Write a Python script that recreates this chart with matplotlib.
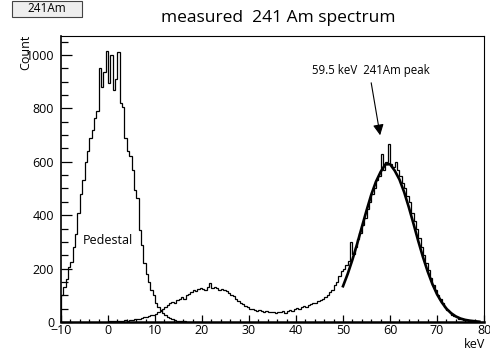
import numpy as np
import matplotlib.pyplot as plt
from matplotlib.patches import Rectangle
from matplotlib.ticker import MultipleLocator

plt.rcParams["font.family"] = ["Open Sans", "DejaVu Sans"]

# ===== DATA =====
BIN = 0.5
PED_START = -10.0
pedestal = [100, 130, 160, 205, 225, 280, 330, 410, 480, 530,
            600, 640, 690, 720, 765, 790, 950, 880, 935, 1015,
            895, 1000, 870, 910, 1010, 820, 805, 690, 640, 620,
            570, 495, 465, 345, 290, 220, 180, 150, 120, 100,
            71, 55, 45, 34, 25, 18, 14, 10, 7, 5,
            4, 3, 2, 1, 1, 0, 0, 0, 0, 0]

SPEC_START = 0.0
spectrum = [2, 3, 2, 4, 3, 5, 4, 6, 5, 7,
            8, 10, 12, 13, 15, 17, 20, 22, 25, 28,
            30, 36, 42, 48, 55, 62, 70, 76, 72, 84,
            88, 92, 86, 100, 105, 112, 120, 116, 124, 127,
            125, 118, 130, 145, 128, 132, 126, 120, 124, 118,
            115, 108, 100, 96, 88, 80, 72, 66, 60, 56,
            50, 48, 45, 42, 44, 40, 38, 40, 36, 38,
            37, 34, 38, 36, 40, 35, 42, 44, 40, 48,
            52, 50, 56, 60, 58, 64, 66, 72, 70, 78,
            82, 88, 95, 100, 112, 118, 140, 150, 172, 190,
            200, 215, 230, 300, 255, 280, 310, 335, 365, 390,
            425, 450, 480, 500, 530, 545, 630, 570, 600, 665,
            590, 580, 600, 570, 545, 520, 500, 470, 450, 410,
            380, 350, 315, 280, 250, 220, 195, 165, 140, 120,
            100, 85, 70, 58, 45, 36, 28, 22, 17, 13,
            10, 8, 6, 5, 4, 3, 2, 2, 1, 1]

fit_x = list(range(50, 80))
fit_y = [134, 180, 233, 292, 355, 417, 476, 525, 562, 590,
         591, 567, 534, 487, 430, 368, 304, 244, 190, 143,
         104, 74, 50, 33, 21, 13, 8, 5, 3, 1]

ped_edges = PED_START + BIN * np.arange(len(pedestal) + 1)
spec_edges = SPEC_START + BIN * np.arange(len(spectrum) + 1)

# ===== PLOT =====
fig = plt.figure(figsize=(4.9, 3.54), dpi=100)
ax = fig.add_axes([61 / 490, 1 - 322 / 354, 423 / 490, 286 / 354])

ax.stairs(pedestal, ped_edges, color="black", lw=0.9)
ax.stairs(spectrum, spec_edges, color="black", lw=0.9)
ax.plot(fit_x, fit_y, color="black", lw=1.9)

ax.set_xlim(-10, 80)
ax.set_ylim(0, 1071)
ax.set_xticks(range(-10, 81, 10))
ax.set_yticks(range(0, 1001, 200))
ax.xaxis.set_minor_locator(MultipleLocator(2))
ax.yaxis.set_minor_locator(MultipleLocator(50))
ax.tick_params(axis="both", which="both", direction="in", labelsize=9,
               width=0.9)
ax.tick_params(axis="y", which="major", length=8, pad=5)
ax.tick_params(axis="y", which="minor", length=5)
ax.tick_params(axis="x", which="major", length=5, pad=1.5)
ax.tick_params(axis="x", which="minor", length=2.5)
ax.tick_params(top=False, right=False)

ax.spines["left"].set_linewidth(1.2)
ax.spines["bottom"].set_linewidth(1.8)
ax.spines["top"].set_linewidth(0.8)
ax.spines["right"].set_linewidth(0.8)

ax.text(-5.3, 307, "Pedestal", fontsize=9, va="center", ha="left")
ax.annotate("", xy=(58.0, 689), xytext=(55.9, 906),
            arrowprops=dict(arrowstyle="-|>", color="black", lw=0.8,
                            mutation_scale=16))
ax.text(55.9, 941, "59.5 keV  241Am peak", fontsize=8.3, ha="center",
        va="center")

fig.text(278 / 490, 1 - 18 / 354, "measured  241 Am spectrum",
         ha="center", va="center", fontsize=12.5)
fig.text(26 / 490, 1 - 52 / 354, "Count", rotation=90, ha="center",
         va="center", fontsize=9)
fig.text(475 / 490, 1 - 345 / 354, "keV", ha="center", va="center",
         fontsize=9)

# ROOT-style stat box at the top left
fig.patches.append(Rectangle((13 / 490, 1 - 18 / 354), 70 / 490, 16 / 354,
                             transform=fig.transFigure, facecolor="#555555",
                             edgecolor="none"))
fig.patches.append(Rectangle((12 / 490, 1 - 17 / 354), 70 / 490, 16 / 354,
                             transform=fig.transFigure, facecolor="#eeeeee",
                             edgecolor="#444444", lw=0.8))
fig.text(47 / 490, 1 - 9 / 354, "241Am", ha="center", va="center",
         fontsize=8.5)

fig.savefig("out.png", dpi=100)
